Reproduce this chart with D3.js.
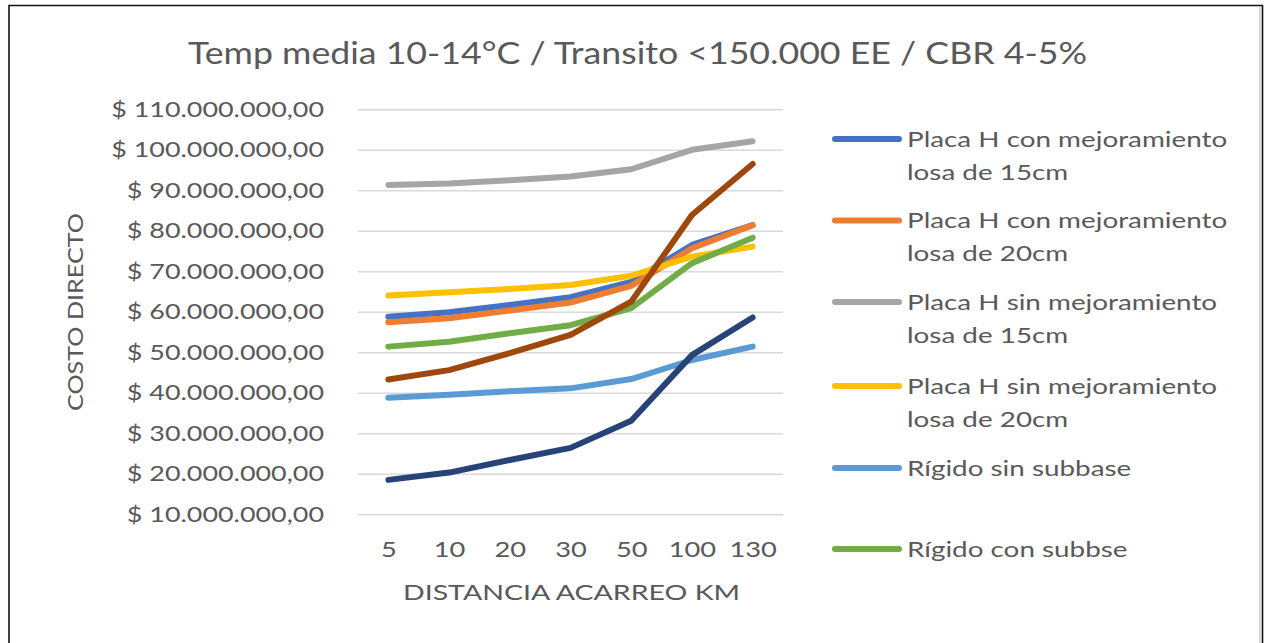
<!DOCTYPE html>
<html>
<head>
<meta charset="utf-8">
<script src="https://cdn.jsdelivr.net/npm/d3@7"></script>
<style>
  html, body { margin: 0; padding: 0; background: #fff; }
  svg { display: block; }
  text { font-family: Lato, "Open Sans", sans-serif; fill: #595959; }
</style>
</head>
<body>
<svg id="chart" width="1265" height="643"></svg>
<script>
// ---- Data ----
const titleText = "Temp media 10-14°C / Transito <150.000 EE / CBR 4-5%";
const yAxisTitle = "COSTO DIRECTO";
const xAxisTitle = "DISTANCIA ACARREO KM";
const categories = ["5", "10", "20", "30", "50", "100", "130"];
const yTicks = [10000000, 20000000, 30000000, 40000000, 50000000, 60000000, 70000000, 80000000, 90000000, 100000000, 110000000];

const seriesNames = [
  ["Placa H con mejoramiento", "losa de 15cm"],
  ["Placa H con mejoramiento", "losa de 20cm"],
  ["Placa H sin mejoramiento", "losa de 15cm"],
  ["Placa H sin mejoramiento", "losa de 20cm"],
  ["Rígido sin subbase"],
  ["Rígido con subbse"],
  ["Serie 7"],
  ["Serie 8"]
];
const seriesColors = ["#4472C4", "#ED7D31", "#A5A5A5", "#FFC000", "#5B9BD5", "#70AD47", "#9E480E", "#264478"];

const placaHCon15 = [58800000, 59900000, 61700000, 63600000, 67400000, 76500000, 81400000];
const placaHCon20 = [57400000, 58400000, 60300000, 62300000, 66400000, 75700000, 81400000];
const placaHSin15 = [91300000, 91700000, 92500000, 93400000, 95200000, 100000000, 102100000];
const placaHSin20 = [64000000, 64800000, 65600000, 66600000, 68900000, 73600000, 76100000];
const rigidoSinSubbase = [38800000, 39500000, 40400000, 41100000, 43400000, 48100000, 51400000];
const rigidoConSubbse = [51400000, 52600000, 54700000, 56700000, 60900000, 72000000, 78300000];
const serie7 = [43300000, 45600000, 49800000, 54300000, 62500000, 83900000, 96500000];
const serie8 = [18500000, 20300000, 23400000, 26400000, 33100000, 49300000, 58600000];

const allSeries = [placaHCon15, placaHCon20, placaHSin15, placaHSin20, rigidoSinSubbase, rigidoConSubbse, serie7, serie8];
const legendCount = 6;

// ---- Drawing ----
const svg = d3.select("#chart");

function stretch(sel, k) {
  sel.each(function () {
    const w = this.getComputedTextLength();
    d3.select(this).attr("textLength", w * k).attr("lengthAdjust", "spacingAndGlyphs");
  });
}

// frame
svg.append("rect").attr("x", 0).attr("y", 0).attr("width", 1265).attr("height", 643).attr("fill", "#fff");
svg.append("line").attr("x1", 1260).attr("x2", 1260).attr("y1", 7).attr("y2", 643)
  .attr("stroke", "#d9d9d9").attr("stroke-width", 2);
svg.append("path").attr("d", "M9,643 V5.5 H1262.5 V643")
  .attr("fill", "none").attr("stroke", "#111").attr("stroke-width", 1.6);

const plot = { left: 358, right: 783, top: 109.3, bottom: 514.3 };

const x = d3.scalePoint().domain(categories).range([plot.left, plot.right]).padding(0.5);
const y = d3.scaleLinear().domain([10000000, 110000000]).range([plot.bottom, plot.top]);

const locale = d3.formatLocale({ decimal: ",", thousands: ".", grouping: [3], currency: ["$ ", ""] });
const fmt = locale.format("$,.2f");

// gridlines + y labels via axis
const yAxis = d3.axisLeft(y).tickValues(yTicks).tickFormat(fmt)
  .tickSize(-(plot.right - plot.left)).tickPadding(34);
const gy = svg.append("g").attr("transform", `translate(${plot.left},0)`).call(yAxis);
gy.select(".domain").remove();
gy.selectAll(".tick line").attr("stroke", "#d9d9d9").attr("stroke-width", 1.6);
gy.selectAll(".tick text").attr("font-size", 21).attr("fill", "#595959")
  .style("font-family", "Lato, 'Open Sans', sans-serif");
stretch(gy.selectAll(".tick text"), 1.28);

// x labels via axis
const xAxis = d3.axisBottom(x).tickSize(0).tickPadding(28);
const gx = svg.append("g").attr("transform", `translate(0,${plot.bottom})`).call(xAxis);
gx.select(".domain").remove();
gx.selectAll(".tick text").attr("font-size", 21).attr("fill", "#595959")
  .style("font-family", "Lato, 'Open Sans', sans-serif");
stretch(gx.selectAll(".tick text"), 1.3);

// lines
const line = d3.line().x((d, i) => x(categories[i])).y(d => y(d));
allSeries.forEach((s, i) => {
  svg.append("path").datum(s).attr("d", line)
    .attr("fill", "none").attr("stroke", seriesColors[i]).attr("stroke-width", 6)
    .attr("stroke-linecap", "round").attr("stroke-linejoin", "round");
});

// title
svg.append("text").attr("x", 637.5).attr("y", 64).attr("text-anchor", "middle")
  .attr("font-size", 30).attr("textLength", 899).attr("lengthAdjust", "spacingAndGlyphs")
  .text(titleText);

// axis titles
svg.append("text").attr("transform", "translate(83,312) rotate(-90)")
  .attr("text-anchor", "middle").attr("font-size", 21)
  .attr("textLength", 198).attr("lengthAdjust", "spacingAndGlyphs").text(yAxisTitle);
svg.append("text").attr("x", 571.5).attr("y", 600).attr("text-anchor", "middle")
  .attr("font-size", 21)
  .attr("textLength", 337).attr("lengthAdjust", "spacingAndGlyphs").text(xAxisTitle);

// legend
const legendY = [139, 220.5, 302, 386, 468, 549];
for (let i = 0; i < legendCount; i++) {
  const g = svg.append("g").attr("transform", `translate(0,${legendY[i]})`);
  g.append("line").attr("x1", 835).attr("x2", 899).attr("y1", 0).attr("y2", 0)
    .attr("stroke", seriesColors[i]).attr("stroke-width", 6).attr("stroke-linecap", "round");
  seriesNames[i].forEach((t, j) => {
    g.append("text").attr("x", 907).attr("y", j * 33).attr("dy", "0.35em")
      .attr("font-size", 22).text(t);
  });
  stretch(g.selectAll("text"), 1.265);
}
</script>
</body>
</html>
